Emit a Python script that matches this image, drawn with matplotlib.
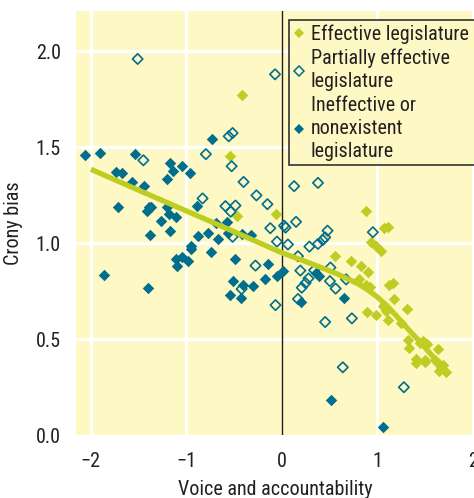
import matplotlib
matplotlib.use("Agg")
import matplotlib.pyplot as plt
from matplotlib.lines import Line2D

plt.rcParams['font.family'] = ['Roboto Condensed', 'DejaVu Sans']
plt.rcParams['font.stretch'] = 'condensed'

BG = '#fdf8c4'
GREEN = '#bfcc22'
TEAL = '#006e8c'
INK = '#231f20'

# effective legislature (filled yellow-green)
eff_x = [-0.415, -0.545, -0.465, -0.06, 0.885, 1.075, 1.11, 0.94, 0.99, 1.04,
         0.56, 0.73, 0.83, 0.90, 0.805, 0.885, 0.92, 1.125, 1.17, 1.18,
         0.895, 0.99, 1.06, 1.095, 1.11, 1.31, 1.245, 1.32, 1.33, 1.45,
         1.485, 1.52, 1.64, 1.41, 1.41, 1.50, 1.50, 1.605, 1.64, 1.665,
         1.65, 1.72, 1.685]
eff_y = [1.772, 1.453, 1.141, 1.153, 1.167, 1.077, 1.083, 1.007, 0.987, 0.957,
         0.931, 0.905, 0.883, 0.849, 0.811, 0.781, 0.772, 0.784, 0.790, 0.709,
         0.643, 0.625, 0.672, 0.648, 0.597, 0.657, 0.582, 0.496, 0.452, 0.479,
         0.490, 0.474, 0.446, 0.396, 0.377, 0.393, 0.382, 0.392, 0.373, 0.357,
         0.332, 0.326, 0.365]

# partially effective legislature (open teal)
part_x = [-1.51, -0.07, -0.555, -0.515, -0.795, -1.45, -0.525, -0.40, -0.265, -0.15,
          -0.83, -0.59, -0.485, -0.535, -0.12, 0.025, 0.04, -0.05, -0.515, -0.275,
          -0.42, -0.065, 0.13, 0.38, 0.15, 0.065, 0.29, 0.38, 0.43, 0.455,
          0.48, 0.955, 0.17, 0.195, 0.34, 0.51, 0.28, 0.25, 0.21, 0.505,
          0.565, 0.675, 0.17, 0.455, 0.735, 0.64, 1.28]
part_y = [1.960, 1.880, 1.557, 1.574, 1.464, 1.432, 1.401, 1.319, 1.249, 1.203,
          1.233, 1.193, 1.196, 1.164, 1.078, 1.091, 1.081, 1.008, 1.033, 0.883,
          0.761, 0.677, 1.297, 1.314, 1.111, 0.993, 0.982, 0.996, 1.016, 1.030,
          1.065, 1.057, 0.932, 0.857, 0.859, 0.873, 0.816, 0.792, 0.768, 0.802,
          0.763, 0.811, 0.709, 0.589, 0.608, 0.353, 0.249]

# ineffective or nonexistent legislature (filled teal)
ineff_x = [-2.06, -1.90, -1.54, -0.735, -1.74, -1.67, -1.17, -1.135, -1.205, -1.04,
           -0.965, -1.57, -1.445, -1.72, -1.395, -1.415, -1.365, -1.20, -1.18, -1.105,
           -1.26, -0.885, -0.69, -0.57, -1.17, -1.385, -0.875, -0.77, -0.665, -0.565,
           -0.415, -0.32, -0.955, -0.95, -0.745, -1.105, -1.04, -0.98, -1.10, -0.485,
           -0.145, 0.01, -0.05, -0.18, -0.515, -0.41, -0.305, -0.545, -0.425, -1.86,
           -1.40, 0.36, 0.395, 0.65, 0.20, 0.515, 1.06]
ineff_y = [1.462, 1.470, 1.465, 1.544, 1.370, 1.366, 1.420, 1.375, 1.336, 1.404,
           1.365, 1.319, 1.297, 1.189, 1.189, 1.169, 1.187, 1.188, 1.153, 1.134,
           1.118, 1.193, 1.104, 1.111, 1.064, 1.042, 1.039, 1.051, 1.021, 1.051,
           1.048, 1.044, 0.987, 0.969, 0.955, 0.919, 0.929, 0.906, 0.883, 0.915,
           0.891, 0.856, 0.827, 0.814, 0.804, 0.783, 0.777, 0.729, 0.714, 0.833,
           0.764, 0.845, 0.828, 0.712, 0.693, 0.182, 0.043]

# smoothed trend
trend_x = [-2.0, -1.5, -1.0, -0.5, 0.0, 0.3, 0.58, 0.8, 0.9, 1.0, 1.1, 1.2, 1.3, 1.45, 1.6]
trend_y = [1.385, 1.276, 1.168, 1.06, 0.95, 0.895, 0.84, 0.788, 0.757, 0.72, 0.675, 0.622, 0.565, 0.485, 0.40]

fig = plt.figure(figsize=(4.74, 4.98), dpi=100)
ax = fig.add_axes([76 / 474, 63 / 498, 1 - 76 / 474, (435 - 11) / 498])
ax.set_facecolor(BG)
for s in ax.spines.values():
    s.set_visible(False)

for gx in [-2, -1, 1, 2]:
    ax.axvline(gx, color='white', lw=2.2, zorder=1)
for gy in [0.5, 1.0, 1.5, 2.0]:
    ax.axhline(gy, color='white', lw=2.2, zorder=1)
ax.axvline(0, color=INK, lw=1.0, zorder=2)

ax.scatter(eff_x, eff_y, marker='D', s=34, color=GREEN, linewidths=0, zorder=3)
ax.scatter(part_x, part_y, marker='D', s=28, facecolor='none', edgecolor=TEAL,
           linewidths=1.2, zorder=3)
ax.scatter(ineff_x, ineff_y, marker='D', s=34, color=TEAL, linewidths=0, zorder=3)
ax.plot(trend_x, trend_y, color=GREEN, lw=3.8, solid_capstyle='butt', zorder=4)

ax.set_xlim(-2.156, 2.015)
ax.set_ylim(0, 2.21)
ax.set_xticks([-2, -1, 0, 1, 2])
ax.set_xticklabels(['\u22122', '\u22121', '0', '1', '2'])
ax.set_yticks([0, 0.5, 1.0, 1.5, 2.0])
ax.set_yticklabels(['0.0', '0.5', '1.0', '1.5', '2.0'])
ax.tick_params(length=0, labelsize=14.5, colors=INK, pad=12)
ax.tick_params(axis='y', pad=11)
ax.set_xlabel('Voice and accountability', fontsize=14.5, color=INK, labelpad=7)
ax.set_ylabel('Crony bias', fontsize=14.5, color=INK, labelpad=9)

handles = [
    Line2D([], [], marker='D', ls='none', ms=5.5, color=GREEN, mew=0),
    Line2D([], [], marker='D', ls='none', ms=5, mfc='none', mec=TEAL, mew=1.1),
    Line2D([], [], marker='D', ls='none', ms=5.5, color=TEAL, mew=0),
]
labels = ['Effective legislature    ', 'Partially effective\nlegislature',
          'Ineffective or\nnonexistent\nlegislature']
leg = ax.legend(handles, labels, loc='upper left', fontsize=14.5, frameon=True, fancybox=False,
                handlelength=0.55, handletextpad=0.3, borderpad=0.22, labelspacing=0.25,
                borderaxespad=0)
leg.set_bbox_to_anchor((289 / 474, 1 - 20 / 498), transform=fig.transFigure)
fr = leg.get_frame()
fr.set_facecolor(BG)
fr.set_edgecolor('#333333')
fr.set_linewidth(1.2)
fr.set_alpha(1)
for t in leg.get_texts():
    t.set_color(INK)
    t.set_linespacing(1.25)

fig.savefig('out.png', dpi=100, facecolor='white')
